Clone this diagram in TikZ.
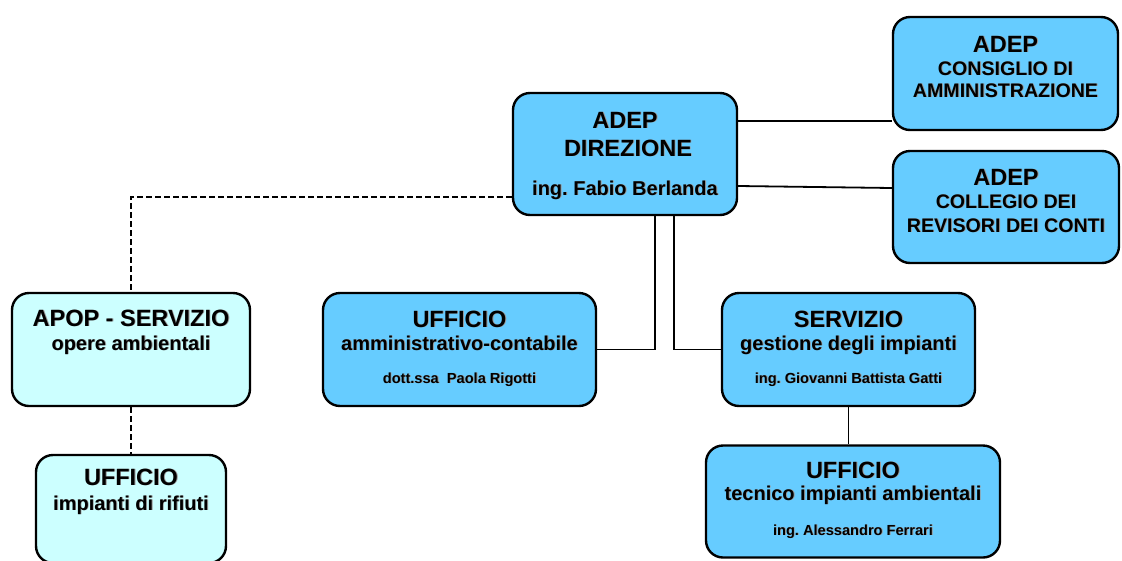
\documentclass[tikz,border=0pt]{standalone}
\usepackage{fontspec}
\setmainfont{Liberation Sans}
\usetikzlibrary{calc}
\definecolor{boxblue}{HTML}{66CCFF}
\definecolor{boxcyan}{HTML}{CCFFFF}
\frenchspacing
\newcommand\shtxt[1]{\leavevmode\rlap{\kern0.9pt\raisebox{-0.9pt}{\textcolor{black!40}{#1}}}#1}
\tikzset{
  orgbox/.style={draw=black, line width=2.4pt, rounded corners=17pt, inner sep=0pt},
  bluebox/.style={orgbox, fill=boxblue},
  cyanbox/.style={orgbox, fill=boxcyan},
  txt/.style={anchor=base, inner sep=0pt, font=\bfseries},
  big/.style={txt, font=\bfseries\fontsize{23.5}{24}\selectfont},
  mid/.style={txt, font=\bfseries\fontsize{20}{22}\selectfont},
  capsmid/.style={txt, font=\bfseries\fontsize{19.6}{21}\selectfont},
  small/.style={txt, font=\bfseries\fontsize{14.6}{16}\selectfont},
  conn/.style={draw=black, line width=1.8pt},
  dashconn/.style={draw=black, line width=1.8pt, dash pattern=on 5.5pt off 3.5pt}
}
\begin{document}
\frenchspacing
\begin{tikzpicture}[x=1pt, y=-1pt]
\useasboundingbox (0,0) rectangle (1122,560);
% boxes
\node[bluebox, minimum width=224pt, minimum height=122pt] (dir) at (625,154) {};
\node[bluebox, minimum width=225pt, minimum height=113pt] (cons) at (1005.5,73.5) {};
\node[bluebox, minimum width=226pt, minimum height=112pt] (coll) at (1006,207) {};
\node[cyanbox, minimum width=238pt, minimum height=113pt] (apop) at (131,349.5) {};
\node[cyanbox, minimum width=190pt, minimum height=108pt] (ufr) at (131,509) {};
\node[bluebox, minimum width=273pt, minimum height=113pt] (amm) at (459.5,349.5) {};
\node[bluebox, minimum width=253pt, minimum height=113pt] (serv) at (848.5,349.5) {};
\node[bluebox, minimum width=294pt, minimum height=112pt] (tec) at (853,501.5) {};
% texts
\node[big] (t1a) at (625,128) {\shtxt{ADEP}};
\node[big] (t1b) at (628,156) {\shtxt{DIREZIONE}};
\node[mid] (t1c) at (625,195) {\shtxt{ing. Fabio Berlanda}};
\node[big] (t2a) at (1005.5,52) {\shtxt{ADEP}};
\node[capsmid] (t2b) at (1005.5,75) {\shtxt{CONSIGLIO DI}};
\node[capsmid] (t2c) at (1005.5,97) {\shtxt{AMMINISTRAZIONE}};
\node[big] (t3a) at (1006,185) {\shtxt{ADEP}};
\node[capsmid] (t3b) at (1006,208) {\shtxt{COLLEGIO DEI}};
\node[capsmid] (t3c) at (1006,232) {\shtxt{REVISORI DEI CONTI}};
\node[big] (t4a) at (131,326) {\shtxt{APOP - SERVIZIO}};
\node[mid] (t4b) at (131,350) {\shtxt{opere ambientali}};
\node[big] (t5a) at (131,485) {\shtxt{UFFICIO}};
\node[mid] (t5b) at (131,510) {\shtxt{impianti di rifiuti}};
\node[big] (t6a) at (459.5,327) {\shtxt{UFFICIO}};
\node[mid] (t6b) at (459.5,350) {\shtxt{amministrativo-contabile}};
\node[small] (t6c) at (459.5,383) {\shtxt{dott.ssa\ \ Paola Rigotti}};
\node[big] (t7a) at (848.5,327) {\shtxt{SERVIZIO}};
\node[mid] (t7b) at (848.5,350) {\shtxt{gestione degli impianti}};
\node[small] (t7c) at (848.5,383) {\shtxt{ing. Giovanni Battista Gatti}};
\node[big] (t8a) at (853,478) {\shtxt{UFFICIO}};
\node[mid] (t8b) at (853,500) {\shtxt{tecnico impianti ambientali}};
\node[small] (t8c) at (853,535) {\shtxt{ing. Alessandro Ferrari}};
% connectors
\draw[conn] (dir.east |- 0,121) -- (cons.west |- 0,121);
\draw[conn] (dir.east |- 0,186) -- (coll.west |- 0,188);
\draw[dashconn] (dir.west |- 0,197) -| (apop.north);
\draw[dashconn] (apop.south) -- (ufr.north);
\draw[conn] (dir.south -| 655,0) |- (amm.east);
\draw[conn] (dir.south -| 674,0) |- (serv.west);
\draw[conn] (serv.south) -- (serv.south |- tec.north);
\end{tikzpicture}
\end{document}
